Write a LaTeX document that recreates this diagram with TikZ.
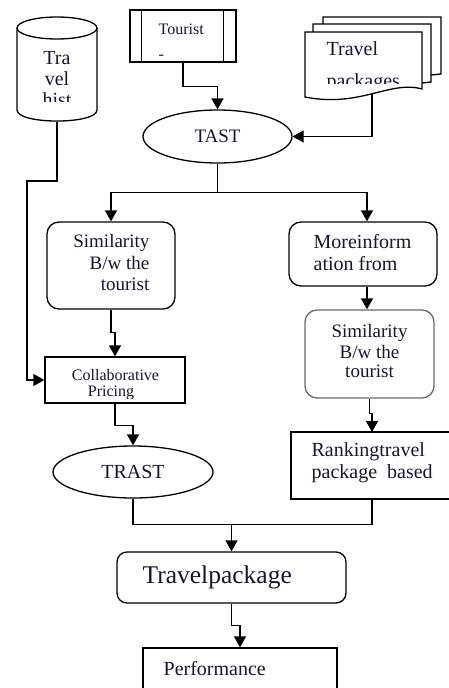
\documentclass[tikz,border=0pt]{standalone}
\usepackage{fontspec}
\setmainfont{Liberation Serif}
\usetikzlibrary{arrows.meta,shapes.geometric}
\definecolor{ink}{RGB}{22,22,48}
\definecolor{softedge}{RGB}{105,105,105}
\begin{document}
\begin{tikzpicture}[x=1pt,y=-1pt,
  line width=1.3pt,
  flow/.style={-{Triangle[length=11pt,width=12pt]}},
  frame/.style={draw, inner sep=0pt},
  rbox/.style={frame, rounded corners=12pt},
  oval/.style={draw, ellipse, inner sep=0pt, text=ink},
  hidden/.style={inner sep=0pt},
  txt/.style={inner sep=0pt, text=ink},
  fa/.style={font=\fontsize{16}{16}\selectfont},
  fb/.style={font=\fontsize{19}{20}\selectfont},
  fc/.style={font=\fontsize{20}{21}\selectfont},
  fd/.style={font=\fontsize{25.5}{27}\selectfont}]
\useasboundingbox (0,0) rectangle (448,688);
\fill[white] (0,0) rectangle (448,688);

% travel history store (cylinder)
\node[hidden, minimum width=80pt, minimum height=104pt] (hist) at (57,69) {};
\draw[fill=white] (17,28) -- (17,110) .. controls (17,124.7) and (97,124.7) .. (97,110) -- (97,28);
\node[draw, ellipse, inner sep=0pt, minimum width=80pt, minimum height=22pt] (histtop) at (57,28) {};
\begin{scope}
  \clip (17,40) rectangle (97,101);
  \node[txt, fc, anchor=base] (histt1) at (57,64) {Tra};
  \node[txt, fc, anchor=base] (histt2) at (57,85) {vel};
  \node[txt, fc, anchor=base] (histt3) at (57,106) {hist};
\end{scope}

% tourist (predefined process)
\node[frame, minimum width=106pt, minimum height=52pt] (tourist) at (183,36) {};
\draw ([xshift=12pt]tourist.north west) -- ([xshift=12pt]tourist.south west);
\draw ([xshift=-13pt]tourist.north east) -- ([xshift=-13pt]tourist.south east);
\node[txt, fa, anchor=base west] (tourt1) at (158,34) {Tourist};
\node[txt, fa, anchor=base west] (tourt2) at (158,59) {-};

% travel packages (stacked documents)
\node[hidden, minimum width=117pt, minimum height=65pt] (pkgs) at (363.5,64.5) {};
\draw (323,24) -- (323,17) -- (441,17) -- (441,74) -- (431,75);
\draw (313,32) -- (313,24) -- (431,24) -- (431,82) -- (422,83);
\draw[fill=white] (305,32) -- (422,32) -- (422,89) .. controls (390,80) and (360,108) .. (305,97) -- cycle;
\coordinate (pkgsout) at (372,93.5);
\node[txt, fc, anchor=base west] (pkgt1) at (326,55) {Travel};
\begin{scope}
  \clip (305,60) rectangle (422,83);
  \node[txt, fc, anchor=base west] (pkgt2) at (326,87) {packages};
\end{scope}

% TAST
\node[oval, fb, minimum width=149pt, minimum height=53pt] (tast) at (217.5,136.5) {TAST};

% left branch
\node[rbox, minimum width=128pt, minimum height=87pt] (sim1) at (111,265.5) {};
\node[txt, fb, anchor=base east] (sim1t1) at (150,247) {Similarity};
\node[txt, fb, anchor=base east] (sim1t2) at (150,269) {B/w the};
\node[txt, fb, anchor=base east] (sim1t3) at (150,290) {tourist};

\node[frame, minimum width=140pt, minimum height=46pt] (collab) at (115,380) {};
\node[txt, fa, anchor=base] (collt1) at (115.5,380) {Collaborative};
\begin{scope}
  \clip (46,382) rectangle (184,398.5);
  \node[txt, fa, anchor=base] (collt2) at (111,396) {Pricing};
\end{scope}

\node[oval, fc, minimum width=160pt, minimum height=52pt] (trast) at (133,472) {TRAST};

% right branch
\node[rbox, minimum width=148pt, minimum height=64pt] (more) at (363,254) {};
\node[txt, fc, anchor=base west] (moret1) at (313,248) {Moreinform};
\node[txt, fc, anchor=base west] (moret2) at (313,270) {ation from};

\node[rbox, draw=softedge, minimum width=129pt, minimum height=88pt] (sim2) at (369.5,354) {};
\node[txt, fb, anchor=base] (sim2t1) at (369.5,337) {Similarity};
\node[txt, fb, anchor=base] (sim2t2) at (369.5,358) {B/w the};
\node[txt, fb, anchor=base] (sim2t3) at (369.5,377) {tourist};

% ranking box runs on past the right edge of the page
\node[frame, minimum width=170pt, minimum height=67pt] (rank) at (376,465.5) {};
\node[txt, fc, anchor=base west] (rankt1) at (311,456) {Rankingtravel};
\node[txt, fc, anchor=base west] (rankt2) at (311,478) {package\hspace{10pt}based};
\coordinate (rankin) at (372,432);
\coordinate (rankout) at (372,499);

% result
\node[rbox, rounded corners=10pt, minimum width=229pt, minimum height=51pt] (tpkg) at (231.5,577.5) {};
\node[txt, fd, anchor=base west] (tpkgt) at (142,583) {Travelpackage};

\node[frame, minimum width=194pt, minimum height=50pt] (perf) at (240,673) {};
\node[txt, fc, anchor=base west] (perft) at (163,675) {Performance};

% connectors
\coordinate (histbend) at (27,181);
\draw[flow] (hist.south) |- (histbend) |- (collab.west);
\draw[flow] (tourist.south) -- ++(0,24) -| (tast.north);
\draw[flow] (pkgsout) |- (tast.east);

\draw (tast.south) -- ++(0,29) coordinate (split);
\coordinate (moretop) at ([xshift=4pt]more.north);
\draw[flow] (split) -| (sim1.north);
\draw[flow] (split) -| (moretop);

\draw[flow] (sim1.south) -- ++(0,23) -| (collab.north);
\draw[flow] (collab.south) -- ++(0,22) -| (trast.north);

\coordinate (morebot) at ([xshift=4pt]more.south);
\draw[flow] (morebot) -- (morebot |- sim2.north);
\draw[flow] (sim2.south) -- ++(0,15) -| (rankin);

\draw (trast.south) -- ++(0,26) coordinate (merge) -| (rankout);
\draw[flow] (merge -| tpkg.north) -- (tpkg.north);
\draw[flow] (tpkg.south) -- ++(0,22) -| (perf.north);
\end{tikzpicture}
\end{document}
